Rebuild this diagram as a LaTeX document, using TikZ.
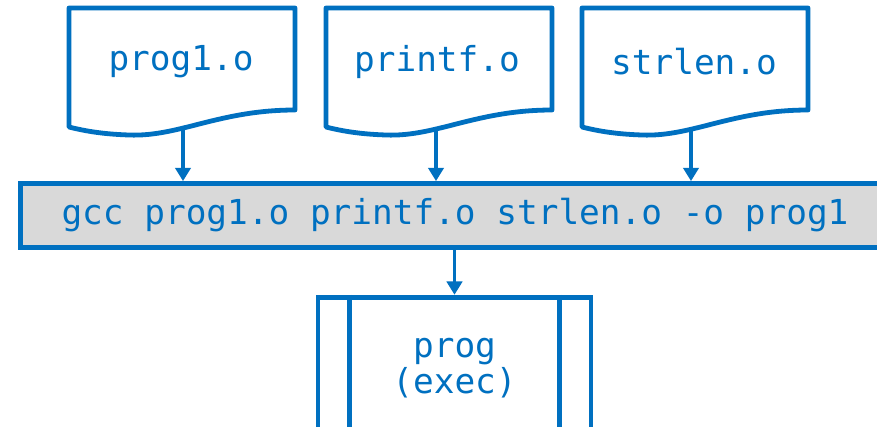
\documentclass[tikz,border=0pt]{standalone}
\usepackage{fontspec}
\newfontfamily\codefont{DejaVu Sans Mono}
\usetikzlibrary{arrows.meta,calc}
\definecolor{ablue}{HTML}{0070C0}
\definecolor{agray}{HTML}{D9D9D9}
\tikzset{
  px/.style={x=0.75pt,y=-0.75pt},
  docline/.style={draw=ablue,line width=3.6pt,line join=round,fill=white},
  doctext/.style={text=ablue,font=\codefont\fontsize{25.8pt}{27pt}\selectfont,inner sep=0pt},
  arr/.style={draw=ablue,line width=2.6pt,-{Triangle[width=11.5pt,length=10pt]}},
  cmdbar/.style={draw=ablue,line width=3.6pt,fill=agray,text=ablue,
    font=\codefont\fontsize{25.8pt}{27pt}\selectfont,minimum width=652pt,minimum height=48pt,inner sep=0pt},
  procbox/.style={draw=ablue,line width=3.6pt,text=ablue,align=center,
    font=\codefont\fontsize{25.8pt}{27pt}\selectfont,minimum width=204.75pt,minimum height=107pt,inner sep=0pt},
}
\begin{document}
\begin{tikzpicture}[px]
\useasboundingbox (0,0) rectangle (877,426);
\clip (0,0) rectangle (877,426);
\fill[white] (0,0) rectangle (877,426);
% document shapes
\foreach \L/\n in {69/a,326/b,582/c}{
  \path[docline] (\L,8) -- (\L+226,8) -- (\L+226,110)
    .. controls (\L+150,110) and (\L+110,137) .. (\L+60,135)
    .. controls (\L+30,134) and (\L+12,130) .. (\L,127) -- cycle;
}
\node[doctext] (d1) at (181,62) {prog1.o};
\node[doctext] (d2) at (437,62) {printf.o};
\node[doctext] (d3) at (694,62) {strlen.o};
\coordinate (s1) at (183,128);
\coordinate (s2) at (436,129);
\coordinate (s3) at (691,129);
% command bar
\node[cmdbar] (bar) at (455,215.5) {gcc prog1.o printf.o strlen.o -o prog1};
% process box
\node[procbox] (prog) at (454.5,368.5) {prog\\(exec)};
\draw[ablue,line width=3.6pt] ([xshift=25.5pt]prog.north west) -- ([xshift=25.5pt]prog.south west);
\draw[ablue,line width=3.6pt] ([xshift=-25.5pt]prog.north east) -- ([xshift=-25.5pt]prog.south east);
% arrows
\draw[arr] (s1) -- (s1 |- bar.north);
\draw[arr] (s2) -- (s2 |- bar.north);
\draw[arr] (s3) -- (s3 |- bar.north);
\draw[arr] (bar.south -| prog.north) -- (prog.north);
\end{tikzpicture}
\end{document}
